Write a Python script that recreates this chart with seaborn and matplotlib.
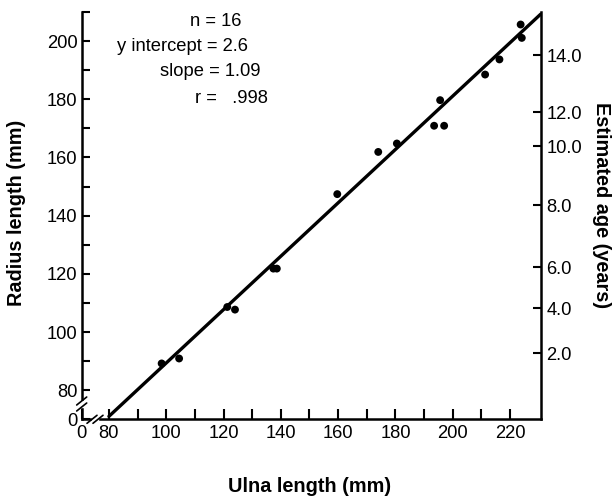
import matplotlib
matplotlib.use("Agg")
import matplotlib.pyplot as plt
from matplotlib.lines import Line2D
from matplotlib.patches import Rectangle
import pandas as pd
import seaborn as sns

# Measured specimens (mm)
ulna_mm = [98.4, 104.5, 121.3, 124.0, 137.4, 138.6, 159.7, 174.0,
           180.5, 193.5, 197.0, 195.6, 211.3, 216.3, 224.1, 223.7]
radius_mm = [89.2, 90.9, 108.6, 107.7, 121.8, 121.8, 147.4, 161.9,
             164.8, 170.9, 170.9, 179.7, 188.5, 193.7, 201.1, 205.7]

# Regression of ulna on radius: ulna = intercept + slope * radius
n_specimens = 16
y_intercept = 2.6
slope = 1.09
r_text = ".998"

# Axis ticks
ulna_ticks = [80, 100, 120, 140, 160, 180, 200, 220]
ulna_minor = [90, 110, 130, 150, 170, 190, 210]
radius_ticks = [80, 100, 120, 140, 160, 180, 200]
radius_minor = [90, 110, 130, 150, 170, 190, 210]

# Estimated age scale (years) against radius length (mm)
age_labels = ["2.0", "4.0", "6.0", "8.0", "10.0", "12.0", "14.0"]
age_radius = [92.7, 108.2, 122.3, 143.6, 163.9, 175.6, 195.2]

X_LO, X_HI = 70.5, 230.7
Y_LO, Y_HI = 70.0, 210.0

sns.set_theme(style="ticks")
plt.rcParams["font.family"] = ["Liberation Sans", "DejaVu Sans"]

W, H = 613, 501
fig = plt.figure(figsize=(W / 100, H / 100), dpi=100)
ax = fig.add_axes([81.7 / W, 1 - 419.3 / H, (540.7 - 81.7) / W, (419.3 - 12) / H])

points = pd.DataFrame({"ulna": ulna_mm, "radius": radius_mm})
line_u = [80.0, X_HI]
line = pd.DataFrame({"ulna": line_u,
                     "radius": [(u - y_intercept) / slope for u in line_u]})

sns.lineplot(data=line, x="ulna", y="radius", color="black", lw=2.4,
             estimator=None, sort=False, ax=ax, zorder=2)
sns.scatterplot(data=points, x="ulna", y="radius", color="black", s=32,
                edgecolor="none", ax=ax, zorder=3)

ax.set_xlim(X_LO, X_HI)
ax.set_ylim(Y_LO, Y_HI)

tick_fs = 13.2
ax.set_xticks([X_LO] + ulna_ticks, ["0"] + [str(v) for v in ulna_ticks])
ax.set_xticks(ulna_minor, minor=True)
ax.set_yticks([Y_LO] + radius_ticks, ["0"] + [str(v) for v in radius_ticks])
ax.set_yticks(radius_minor, minor=True)
ax.tick_params(axis="both", which="both", direction="in", width=1.5,
               color="black", labelsize=tick_fs, labelcolor="black")
ax.tick_params(axis="x", which="both", length=7, pad=4)
ax.tick_params(axis="y", which="both", length=6, pad=3)

for side in ["left", "bottom"]:
    ax.spines[side].set_linewidth(1.8)
    ax.spines[side].set_color("black")
ax.spines["top"].set_visible(False)
ax.spines["right"].set_visible(False)

ax2 = ax.twinx()
ax2.set_ylim(Y_LO, Y_HI)
ax2.set_yticks(age_radius, age_labels)
ax2.tick_params(axis="y", direction="in", length=6, width=1.5, pad=4,
                labelsize=tick_fs, color="black", labelcolor="black")
for side in ["left", "bottom", "top"]:
    ax2.spines[side].set_visible(False)
ax2.spines["right"].set_linewidth(1.8)
ax2.spines["right"].set_color("black")
ax2.grid(False)

label_fs = 14.3
ax.set_xlabel("Ulna length (mm)", fontsize=label_fs, fontweight="bold",
              color="black", va="center")
ax.xaxis.set_label_coords((310 - 81.7) / 459, (419.3 - 487) / 407.3)
ax.set_ylabel("Radius length (mm)", fontsize=label_fs, fontweight="bold",
              color="black", va="center")
ax.yaxis.set_label_coords((17 - 81.7) / 459, (419.3 - 213) / 407.3)
ax2.set_ylabel("Estimated age (years)", fontsize=label_fs, fontweight="bold",
               color="black", rotation=270, va="center")
ax2.yaxis.set_label_coords((601 - 81.7) / 459, (419.3 - 205) / 407.3)


def px(x, y):
    return x / W, 1 - y / H


# Axis break marks on the left and bottom spines
def axis_break(cx, cy, vertical):
    if vertical:
        fig.add_artist(Rectangle(px(cx - 3, cy + 3), 6 / W, 6 / H,
                                 transform=fig.transFigure, color="white",
                                 zorder=5))
        offsets = [(0, -3), (0, 3)]
    else:
        fig.add_artist(Rectangle(px(cx - 3, cy + 3), 6 / W, 6 / H,
                                 transform=fig.transFigure, color="white",
                                 zorder=5))
        offsets = [(-3, 0), (3, 0)]
    for ox, oy in offsets:
        x0, y0 = px(cx + ox - 5, cy + oy + 4)
        x1, y1 = px(cx + ox + 5, cy + oy - 4)
        fig.add_artist(Line2D([x0, x1], [y0, y1], transform=fig.transFigure,
                              color="black", lw=1.2, zorder=6))


axis_break(81.7, 404, vertical=True)
axis_break(95, 419.3, vertical=False)

# Regression summary
stats_fs = 13.2
for left_px, y_px, txt in [
    (190, 21.7, f"n = {n_specimens}"),
    (117, 46.7, f"y intercept = {y_intercept}"),
    (160, 71.7, f"slope = {slope:.2f}"),
    (195, 98.3, f"r =   {r_text}"),
]:
    fx, fy = px(left_px, y_px)
    fig.text(fx, fy, txt, fontsize=stats_fs, color="black",
             ha="left", va="center")

fig.savefig("out.png", dpi=100)
